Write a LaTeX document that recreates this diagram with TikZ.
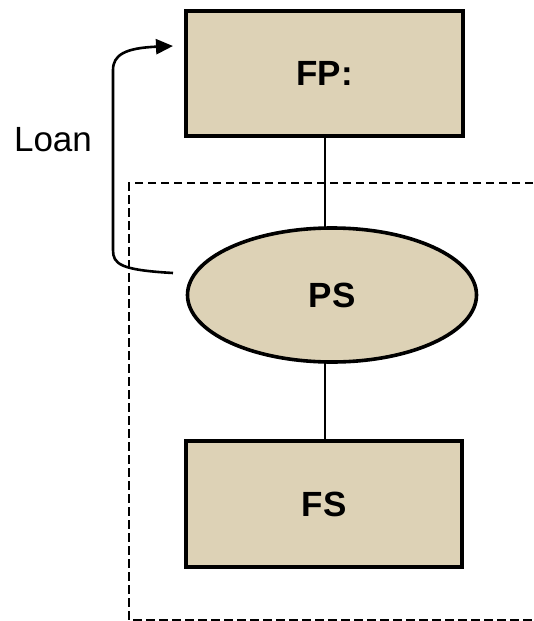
\documentclass[tikz,border=0pt]{standalone}
\usepackage{fontspec}
\setmainfont{Liberation Sans}
\usetikzlibrary{shapes.geometric,arrows.meta}
\definecolor{tan}{HTML}{DDD2B6}
\tikzset{
  boxnode/.style={draw=black, line width=3.6pt, fill=tan, rectangle, inner sep=0pt,
    font=\fontsize{35}{40}\selectfont\bfseries},
  ovalnode/.style={draw=black, line width=3.6pt, fill=tan, ellipse, inner sep=0pt,
    minimum width=289pt, minimum height=134pt, font=\fontsize{35}{40}\selectfont\bfseries},
  link/.style={draw=black, line width=2.4pt},
  loanarrow/.style={draw=black, line width=2.6pt, -{Triangle[length=17pt,width=15pt]}},
  dashbox/.style={draw=black, line width=2pt, dash pattern=on 8.5pt off 4.5pt},
  plain/.style={font=\fontsize{35}{40}\selectfont, inner sep=0pt}
}
\begin{document}
\begin{tikzpicture}[x=1pt,y=-1pt]
\useasboundingbox (0,0) rectangle (533,621);
% dashed boundary
\coordinate (d1) at (533,183);
\coordinate (d2) at (129,183);
\coordinate (d3) at (129,620);
\coordinate (d4) at (533,620);
\draw[dashbox] (d1) -- (d2) -- (d3) -- (d4);
% nodes
\node[boxnode, minimum width=277pt, minimum height=125pt] (fp) at (324.5,73.5) {FP:};
\node[ovalnode] (ps) at (332,295) {PS};
\node[boxnode, minimum width=276pt, minimum height=126pt] (fs) at (324,504) {FS};
\node[plain] (loan) at (53,140) {Loan};
% connectors
\draw[link] (fp.south -| 325,0) -- (325,228);
\draw[link] (325,362) -- (fs.north -| 325,0);
% loan arrow
\coordinate (ls) at (173,273);
\coordinate (le) at (173,46);
\draw[loanarrow] (ls) .. controls (120,270) and (113,264) .. (113,250) -- (113,70)
  .. controls (113,55) and (125,48) .. (le);
\end{tikzpicture}
\end{document}
